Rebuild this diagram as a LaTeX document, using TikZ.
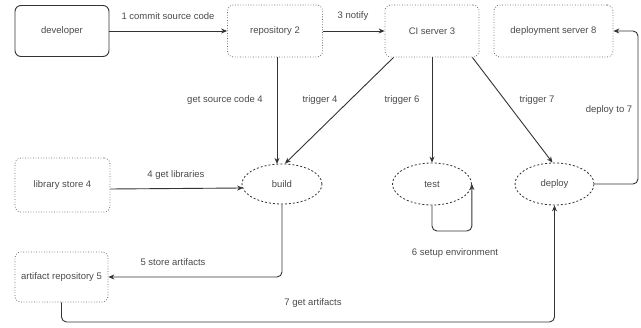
\documentclass[tikz,border=0pt]{standalone}
\usepackage{fontspec}
\setmainfont{Liberation Sans}
\usetikzlibrary{arrows.meta,shapes.geometric,calc}
\definecolor{txt}{HTML}{4A4A4A}
\definecolor{ln}{HTML}{333333}
\definecolor{dotc}{HTML}{6A6A6A}
\tikzset{
  every node/.style={font=\fontsize{9.5}{11}\selectfont, text=txt},
  solidbox/.style={draw=ln, line width=0.9pt, rounded corners=6pt, minimum width=#1, minimum height=51pt, inner sep=0pt},
  dotbox/.style={draw=dotc, line width=0.8pt, dash pattern=on 0.8pt off 1.8pt, rounded corners=6pt, minimum width=#1, minimum height=52pt, inner sep=0pt},
  dashell/.style={ellipse, draw=ln, line width=0.8pt, dash pattern=on 2pt off 2pt, minimum width=79pt, minimum height=40pt, inner sep=0pt},
  arr/.style={draw=ln, line width=0.9pt, -{Stealth[length=6pt,width=5pt]}},
  conn/.style={arr, rounded corners=5pt},
  lbl/.style={inner sep=0pt}
}
\begin{document}
\begin{tikzpicture}[x=1pt,y=-1pt]
\useasboundingbox (0,0) rectangle (641,328);
% nodes
\node[solidbox=94pt] (dev) at (62,31) {developer};
\node[dotbox=95pt] (repo) at (275,31) {repository 2};
\node[dotbox=94pt] (ci) at (432,31) {CI server 3};
\node[dotbox=119pt] (dep) at (553.5,31) {deployment server 8};
\node[dotbox=95pt, minimum height=54pt] (lib) at (62.5,185) {library store 4};
\node[dotbox=93pt, minimum height=50pt] (art) at (61.5,277) {artifact repository 5};
\node[dashell, minimum width=80pt] (build) at (282,184) {build};
\node[dashell, minimum height=42pt] (test) at (432,184) {test};
\node[dashell, minimum height=42pt] (deploy) at (554.5,184) {deploy};
% helper coordinates
\coordinate (rc) at (638,31);
\coordinate (ly) at (0,231);
\coordinate (by) at (0,322);
% connectors
\draw[arr] (dev.east) -- (repo.west);
\draw[arr] (repo.east) -- (ci.west);
\draw[arr] ($(repo.south)+(2,0)$) -- ($(build.north)+(-5,0.3)$);
\draw[arr] ($(ci.south west)+(9,0)$) -- ($(build.north)+(3,0)$);
\draw[arr] (ci.south) -- (test.north);
\draw[arr] ($(ci.south east)+(-7,0)$) -- ($(deploy.north)+(-2,0)$);
\draw[conn] (deploy.east) -| (rc) -- (dep.east);
\draw[arr] ($(lib.east)+(0,4)$) -- ($(build.west)+(1.5,4)$);
\draw[conn] (build.south) |- (art.east);
\draw[conn] (test.south) |- (test.east |- ly) -- (test.east);
\draw[conn] (art.south) -- (art.south |- by) -| (deploy.south);
% labels
\node[lbl] (l1) at (168,16) {1 commit source code};
\node[lbl] (l3) at (353,16) {3 notify};
\node[lbl] (lg) at (225,100) {get source code 4};
\node[lbl] (lt4) at (320,100) {trigger 4};
\node[lbl] (lt6) at (402,100) {trigger 6};
\node[lbl] (lt7) at (537,100) {trigger 7};
\node[lbl] (ld7) at (609,110) {deploy to 7};
\node[lbl] (l4) at (176,175) {4 get libraries};
\node[lbl] (l5) at (173,262) {5 store artifacts};
\node[lbl] (l6) at (455,253) {6 setup environment};
\node[lbl] (l7) at (313,303) {7 get artifacts};
\end{tikzpicture}
\end{document}
